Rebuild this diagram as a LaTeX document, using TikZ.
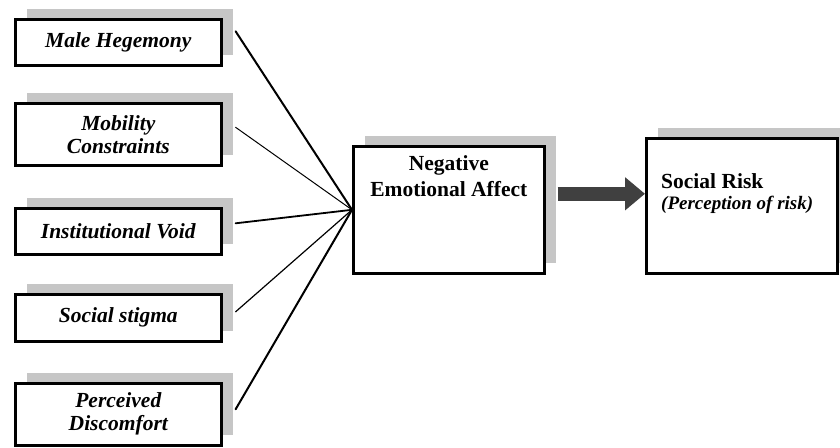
\documentclass[tikz,border=0pt]{standalone}
\usepackage{fontspec}
\setmainfont{Liberation Serif}
\usetikzlibrary{shadows,arrows.meta}

\tikzset{
  shadowbox/.style={draw, line width=2.6pt, fill=white, inner sep=0pt,
    general shadow={fill=gray!45, shadow xshift=12pt, shadow yshift=10pt}},
  factor/.style={shadowbox, anchor=north west, minimum width=206pt, align=center,
    font=\fontsize{21.5}{23}\selectfont\bfseries\itshape},
  link/.style={line cap=round}
}

\begin{document}
\begin{tikzpicture}[x=1pt,y=-1pt]
  \useasboundingbox (0,0) rectangle (840,447);
  % left-hand factors
  \node[factor, minimum height=46pt] (hege) at (14,18) {Male Hegemony};
  \node[factor, minimum height=62pt] (mob) at (14,102) {Mobility\\Constraints};
  \node[factor, minimum height=46pt] (inst) at (14,207) {Institutional Void};
  \node[factor, minimum height=47pt] (stig) at (14,293) {Social stigma};
  \node[factor, minimum height=62pt] (perc) at (14,382) {Perceived\\Discomfort};
  % mediator and outcome
  \node[shadowbox, anchor=north west, minimum width=191pt, minimum height=127pt,
    label={[anchor=north, yshift=-10pt, align=center, inner sep=0pt,
      font=\fontsize{21.5}{26}\selectfont\bfseries]north:Negative\\Emotional Affect}] (neg) at (352,145) {};
  \node[shadowbox, anchor=north west, minimum width=191pt, minimum height=135pt,
    label={[anchor=north west, xshift=16pt, yshift=-36pt, align=left, inner sep=0pt,
      font=\fontsize{21.5}{21}\selectfont]north west:%
      {\bfseries Social Risk}\\%
      {\fontsize{19}{21}\selectfont\bfseries\itshape (Perception of risk)}}] (risk) at (645,137) {};
  % connectors
  \draw[link, line width=2pt] ([shift={(13pt,11pt)}]hege.east) -- (neg.west);
  \draw[link, line width=1pt] ([shift={(13pt,7pt)}]mob.east) -- (neg.west);
  \draw[link, line width=1.8pt] ([shift={(13pt,8pt)}]inst.east) -- (neg.west);
  \draw[link, line width=1.2pt] ([shift={(13pt,6pt)}]stig.east) -- (neg.west);
  \draw[link, line width=2pt] ([shift={(13pt,5pt)}]perc.east) -- (neg.west);
  \draw[line width=14pt, black!75, -{Triangle[length=20pt,width=32pt]}]
    ([shift={(12pt,16pt)}]neg.east) -- ([yshift=12pt]risk.west);
\end{tikzpicture}
\end{document}
